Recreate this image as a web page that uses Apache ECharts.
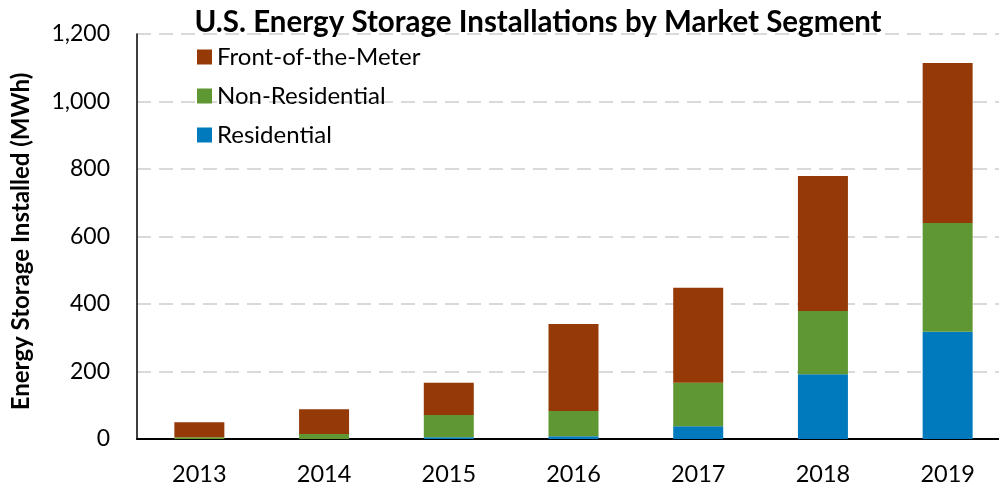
<!DOCTYPE html>
<html>
<head>
<meta charset="utf-8">
<script src="https://cdn.jsdelivr.net/npm/echarts@6/dist/echarts.min.js"></script>
<style>
  html, body { margin: 0; padding: 0; background: #fff; }
  #chart { width: 999px; height: 484px; }
</style>
</head>
<body>
<div id="chart"></div>
<script>
// Installed storage by year and market segment (MWh)
const years = ['2013', '2014', '2015', '2016', '2017', '2018', '2019'];
const residential = [0, 0, 5, 8, 38, 192, 318];
const nonResidential = [5, 15, 66, 75, 129, 187, 322];
const frontOfMeter = [45, 73, 96, 258, 281, 400, 474];
const yTicks = [0, 200, 400, 600, 800, 1000, 1200];

const FONT = 'Lato, "Open Sans", sans-serif';
const chart = echarts.init(document.getElementById('chart'));

const fmt = v => v.toLocaleString('en-US');

chart.setOption({
  animation: false,
  backgroundColor: '#ffffff',
  title: {
    text: 'U.S. Energy Storage Installations by Market Segment',
    left: 533,
    textAlign: 'center',
    top: 2,
    textStyle: { fontFamily: FONT, fontWeight: 'bold', fontSize: 29.5, color: '#000' }
  },
  legend: {
    orient: 'vertical',
    left: 192,
    top: 40,
    itemWidth: 15,
    itemHeight: 15,
    itemGap: 15,
    icon: 'rect',
    data: ['Front-of-the-Meter', 'Non-Residential', 'Residential'],
    textStyle: { fontFamily: FONT, fontSize: 24, color: '#000' }
  },
  grid: {
    left: 137, top: 34, width: 873, bottom: 45,
    containLabel: false, outerBoundsMode: 'none'
  },
  xAxis: {
    type: 'category',
    data: years,
    axisLine: { show: true, lineStyle: { color: '#000', width: 2 } },
    axisTick: { show: false },
    axisLabel: { fontFamily: FONT, fontSize: 23.5, color: '#000', margin: 23 }
  },
  yAxis: {
    type: 'value',
    min: yTicks[0],
    max: yTicks[yTicks.length - 1],
    interval: 200,
    name: 'Energy Storage Installed (MWh)',
    nameLocation: 'middle',
    nameGap: 104,
    nameTextStyle: {
      fontFamily: FONT, fontWeight: 'bold', fontSize: 24, color: '#000',
      padding: [0, 10, 0, 0]
    },
    axisLine: { show: true, lineStyle: { color: '#000', width: 1.5 } },
    axisTick: { show: false },
    axisLabel: { fontFamily: FONT, fontSize: 23, color: '#000', margin: 27, formatter: fmt },
    splitLine: { show: true, lineStyle: { color: '#d9d9d9', width: 2, type: [14, 8] } }
  },
  series: [
    {
      name: 'Residential', type: 'bar', stack: 'total', barWidth: 50,
      itemStyle: { color: '#0079bd' }, data: residential
    },
    {
      name: 'Non-Residential', type: 'bar', stack: 'total', barWidth: 50,
      itemStyle: { color: '#5f9733' }, data: nonResidential
    },
    {
      name: 'Front-of-the-Meter', type: 'bar', stack: 'total', barWidth: 50,
      itemStyle: { color: '#953a07' }, data: frontOfMeter
    }
  ]
});
</script>
</body>
</html>
